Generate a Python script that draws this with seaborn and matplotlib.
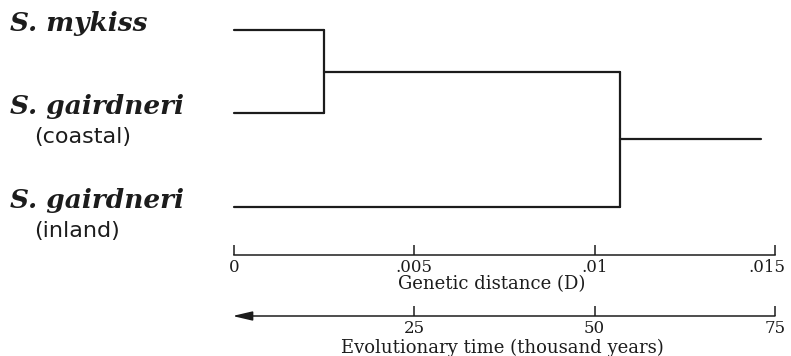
import seaborn as sns
import matplotlib.pyplot as plt
import matplotlib.transforms as mtransforms
import pandas as pd

sns.set_style("white")

# taxa (top to bottom) and their subtitles
taxa = ["S. mykiss", "S. gairdneri", "S. gairdneri"]
subtitles = ["", "(coastal)", "(inland)"]

# genetic distance (D) at which clusters join
join_mykiss_coastal = 0.0025
join_inland = 0.0107
root_end = 0.0146

# axis ticks
dist_ticks = [0, 0.005, 0.01, 0.015]
dist_ticklabels = ["0", ".005", ".01", ".015"]
time_ticks = [25, 50, 75]
time_ticklabels = ["25", "50", "75"]

W, H = 791, 356
leaf_rows = [30, 113, 207]          # vertical pixel rows of leaves
x0, x1 = 234, 775                    # pixel span of 0 .. 0.015

fig = plt.figure(figsize=(W / 100, H / 100), dpi=100)
ink = "#1c1c1c"

# ---- dendrogram segments built from join distances
r_a, r_b, r_c = leaf_rows
mid1 = (r_a + r_b) / 2
mid2 = (mid1 + r_c) / 2
segs = [
    ("mykiss", [0, join_mykiss_coastal], [r_a, r_a]),
    ("coastal", [0, join_mykiss_coastal], [r_b, r_b]),
    ("node1", [join_mykiss_coastal, join_mykiss_coastal], [r_a, r_b]),
    ("node1h", [join_mykiss_coastal, join_inland], [mid1, mid1]),
    ("inland", [0, join_inland], [r_c, r_c]),
    ("node2", [join_inland, join_inland], [mid1, r_c]),
    ("root", [join_inland, root_end], [mid2, mid2]),
]
rows = []
for name, xs, ys in segs:
    for xv, yv in zip(xs, ys):
        rows.append({"seg": name, "D": xv, "row": yv})
seg_df = pd.DataFrame(rows)

span = dist_ticks[-1]
ax = fig.add_axes([0, 0, 1, 1])
sns.lineplot(data=seg_df, x="D", y="row", units="seg", estimator=None,
             sort=False, color=ink, lw=1.6, ax=ax, legend=False)
ax.set_xlim(-x0 / (x1 - x0) * span, (W - x0) / (x1 - x0) * span)
ax.set_ylim(H, 0)
ax.axis("off")

# ---- taxon labels
def fx(px):
    return px / W

def fy(py):
    return 1 - py / H

for name, sub, r in zip(taxa, subtitles, leaf_rows):
    fig.text(fx(10), fy(r + 1), name, family="DejaVu Serif", weight="bold",
             style="italic", fontsize=19, color=ink, va="baseline", ha="left")
    if sub:
        fig.text(fx(34), fy(r + 24), sub, family="DejaVu Sans", fontsize=16,
                 color=ink, va="center", ha="left")


def style_axis(a):
    a.set_yticks([])
    a.patch.set_alpha(0)
    for s in ["top", "left", "right"]:
        a.spines[s].set_visible(False)
    a.spines["bottom"].set_color(ink)
    a.spines["bottom"].set_linewidth(1.1)
    a.tick_params(axis="x", bottom=True, direction="in", length=7, width=1.1,
                  color=ink, pad=3, labelsize=12, labelcolor=ink)
    for t in a.get_xticklabels():
        t.set_family("DejaVu Serif")


# ---- genetic distance axis
ax_d = fig.add_axes([fx(x0), fy(255), (x1 - x0) / W, 0.06])
ax_d.set_xlim(0, span)
ax_d.set_xticks(dist_ticks)
ax_d.set_xticklabels(dist_ticklabels)
style_axis(ax_d)
last = ax_d.get_xticklabels()[-1]
last.set_transform(last.get_transform() +
                   mtransforms.ScaledTranslation(-6 / 72, 0, fig.dpi_scale_trans))
ax_d.set_xlabel("Genetic distance (D)", family="DejaVu Serif", fontsize=13,
                color=ink, va="center")
ax_d.xaxis.set_label_coords((492 - x0) / (x1 - x0), -29 / (0.06 * H))

# ---- evolutionary time axis (arrow pointing back in time)
ax_t = fig.add_axes([fx(x0), fy(316), (x1 - x0) / W, 0.06])
ax_t.set_xlim(0, time_ticks[-1])
ax_t.set_xticks(time_ticks)
ax_t.set_xticklabels(time_ticklabels)
style_axis(ax_t)
ax_t.spines["bottom"].set_visible(False)
ax_t.annotate("", xy=(-0.2, 0), xytext=(time_ticks[-1], 0),
              xycoords=("data", "axes fraction"),
              textcoords=("data", "axes fraction"),
              arrowprops=dict(arrowstyle="-|>,head_length=1.2,head_width=0.28",
                              color=ink, lw=1.1, shrinkA=0, shrinkB=0),
              annotation_clip=False)
ax_t.set_xlabel("Evolutionary time (thousand years)", family="DejaVu Serif",
                fontsize=13, color=ink, va="center")
ax_t.xaxis.set_label_coords((502 - x0) / (x1 - x0), -32 / (0.06 * H))

fig.savefig("out.png", dpi=100)
